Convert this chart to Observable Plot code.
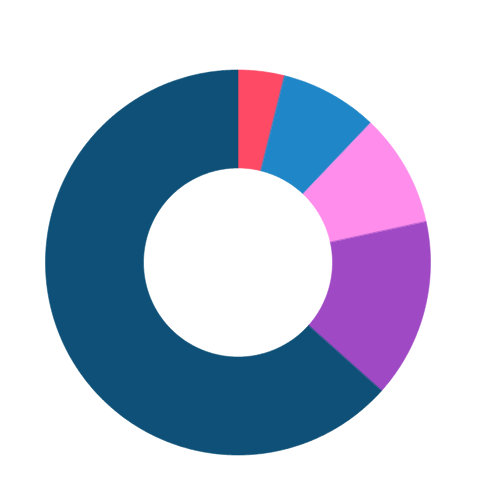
<!DOCTYPE html>
<html>
<head>
<meta charset="utf-8">
<script src="https://cdn.jsdelivr.net/npm/d3@7"></script>
<script src="https://cdn.jsdelivr.net/npm/@observablehq/plot@0.6"></script>
<style>
  html, body { margin: 0; padding: 0; background: #fff; }
  #chart svg { display: block; }
</style>
</head>
<body>
<div id="chart"></div>
<script>
// Data (clockwise from 12 o'clock)
const categories = ["A", "B", "C", "D", "E"];
const values = [3.9, 8.2, 9.5, 15.0, 63.4];
const colors = ["#ff4a66", "#1f86c8", "#ff8dec", "#a049c4", "#0e5077"];

// Geometry (pixels)
const W = 500, H = 500;
const cx = 237.5, cy = 262;
const outerR = 192.5, innerR = 94.5;

const table = categories.map((name, i) => ({name, value: values[i]}));
const arcs = d3.pie().sort(null).value(d => d.value)(table);

// Build slice outlines from pie angles
const pts = [];
for (const a of arcs) {
  const n = Math.max(2, Math.ceil((a.endAngle - a.startAngle) / (Math.PI / 360)));
  for (let k = 0; k <= n; k++) {
    const t = a.startAngle + (a.endAngle - a.startAngle) * k / n;
    pts.push({name: a.data.name, x: outerR * Math.sin(t), y: outerR * Math.cos(t)});
  }
  for (let k = n; k >= 0; k--) {
    const t = a.startAngle + (a.endAngle - a.startAngle) * k / n;
    pts.push({name: a.data.name, x: innerR * Math.sin(t), y: innerR * Math.cos(t)});
  }
}

const chart = Plot.plot({
  width: W,
  height: H,
  margin: 0,
  x: {domain: [-cx, W - cx], axis: null},
  y: {domain: [cy - H, cy], axis: null},
  color: {domain: categories, range: colors},
  marks: [
    Plot.line(pts, {
      x: "x", y: "y", z: "name",
      fill: "name", stroke: "name", strokeWidth: 0.6,
      curve: "linear-closed"
    })
  ]
});
document.getElementById("chart").append(chart);
</script>
</body>
</html>
